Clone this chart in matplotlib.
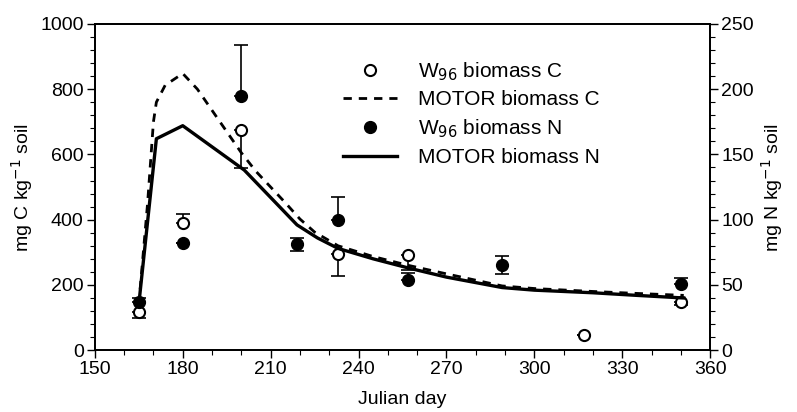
import matplotlib
matplotlib.use("Agg")
import matplotlib.pyplot as plt
from matplotlib.ticker import MultipleLocator

plt.rcParams["font.family"] = ["Liberation Sans", "DejaVu Sans"]

# MOTOR simulated biomass C (left axis) and biomass N (right axis)
motor_c_day = [165, 168, 170, 171, 174, 180, 185, 190, 195, 200, 205, 210, 215,
               220, 225, 233, 245, 257, 270, 289, 300, 320, 335, 351]
motor_c = [140, 450, 700, 760, 812, 848, 800, 735, 670, 605, 548, 500, 452,
           402, 362, 320, 287, 260, 234, 197, 189, 180, 174, 168]

motor_n_day = [165, 171, 180, 201, 219, 226, 233, 245, 257, 270, 289, 300, 320, 335, 351]
motor_n = [35, 162, 172, 138, 96, 86, 78, 70, 63, 56, 48, 46, 44, 42, 40]

# W96 measured biomass C with one-sided errors
w96_c_day = [165, 180, 200, 233, 257, 317, 350]
w96_c = [117, 390, 675, 296, 292, 46, 147]
w96_c_err_lo = [18, 0, 118, 70, 45, 0, 8]
w96_c_err_hi = [0, 28, 0, 0, 0, 0, 0]

# W96 measured biomass N
w96_n_day = [165, 180, 200, 219, 233, 257, 289, 350]
w96_n = [37, 82, 195, 81, 100, 54, 65, 51]
w96_n_err_lo = [0, 0, 0, 5, 0, 0, 7, 0]
w96_n_err_hi = [3, 0, 39, 5, 17, 5, 7, 4]

fig = plt.figure(figsize=(7.97, 4.12), dpi=100)
ax = fig.add_axes([0.119, 0.150, 0.772, 0.792])
ax2 = ax.twinx()

line_c, = ax.plot(motor_c_day, motor_c, color="black", lw=2.0,
                  dashes=(3, 2.5), zorder=2)
line_n, = ax2.plot(motor_n_day, motor_n, color="black", lw=2.4, zorder=2)

ax.errorbar(w96_c_day, w96_c, yerr=[w96_c_err_lo, w96_c_err_hi], fmt="none",
            ecolor="black", elinewidth=1.2, capsize=5, capthick=1.2, zorder=3)
pts_c, = ax.plot(w96_c_day, w96_c, "o", ms=8, mfc="white", mec="black",
                 mew=1.5, ls="none", zorder=4)
ax2.errorbar(w96_n_day, w96_n, yerr=[w96_n_err_lo, w96_n_err_hi], fmt="none",
             ecolor="black", elinewidth=1.2, capsize=5, capthick=1.2, zorder=3)
pts_n, = ax2.plot(w96_n_day, w96_n, "o", ms=8.5, mfc="black", mec="black",
                  ls="none", zorder=4)

ax.set_xlim(150, 360)
ax.set_ylim(0, 1000)
ax2.set_ylim(0, 250)

ax.xaxis.set_major_locator(MultipleLocator(30))
ax.xaxis.set_minor_locator(MultipleLocator(10))
ax.yaxis.set_major_locator(MultipleLocator(200))
ax.yaxis.set_minor_locator(MultipleLocator(40))
ax2.yaxis.set_major_locator(MultipleLocator(50))
ax2.yaxis.set_minor_locator(MultipleLocator(10))

for a in (ax, ax2):
    a.tick_params(which="major", direction="out", length=6, width=1.0,
                  labelsize=14, pad=2)
    a.tick_params(which="minor", direction="out", length=3.5, width=0.8)
    for sp in a.spines.values():
        sp.set_linewidth(1.3)

ax.set_xlabel("Julian day", fontsize=14, labelpad=9)
ax.set_ylabel("mg C kg$^{-1}$ soil", fontsize=14, labelpad=4)
ax2.set_ylabel("mg N kg$^{-1}$ soil", fontsize=14, labelpad=4)

ax.legend([pts_c, line_c, pts_n, line_n],
          ["W$_{96}$ biomass C", "MOTOR biomass C",
           "W$_{96}$ biomass N", "MOTOR biomass N"],
          loc="upper left", bbox_to_anchor=(0.39, 0.915), frameon=False,
          fontsize=15, handlelength=2.6, handletextpad=1.0,
          labelspacing=0.38, borderaxespad=0)

fig.savefig("out.png", dpi=100)
